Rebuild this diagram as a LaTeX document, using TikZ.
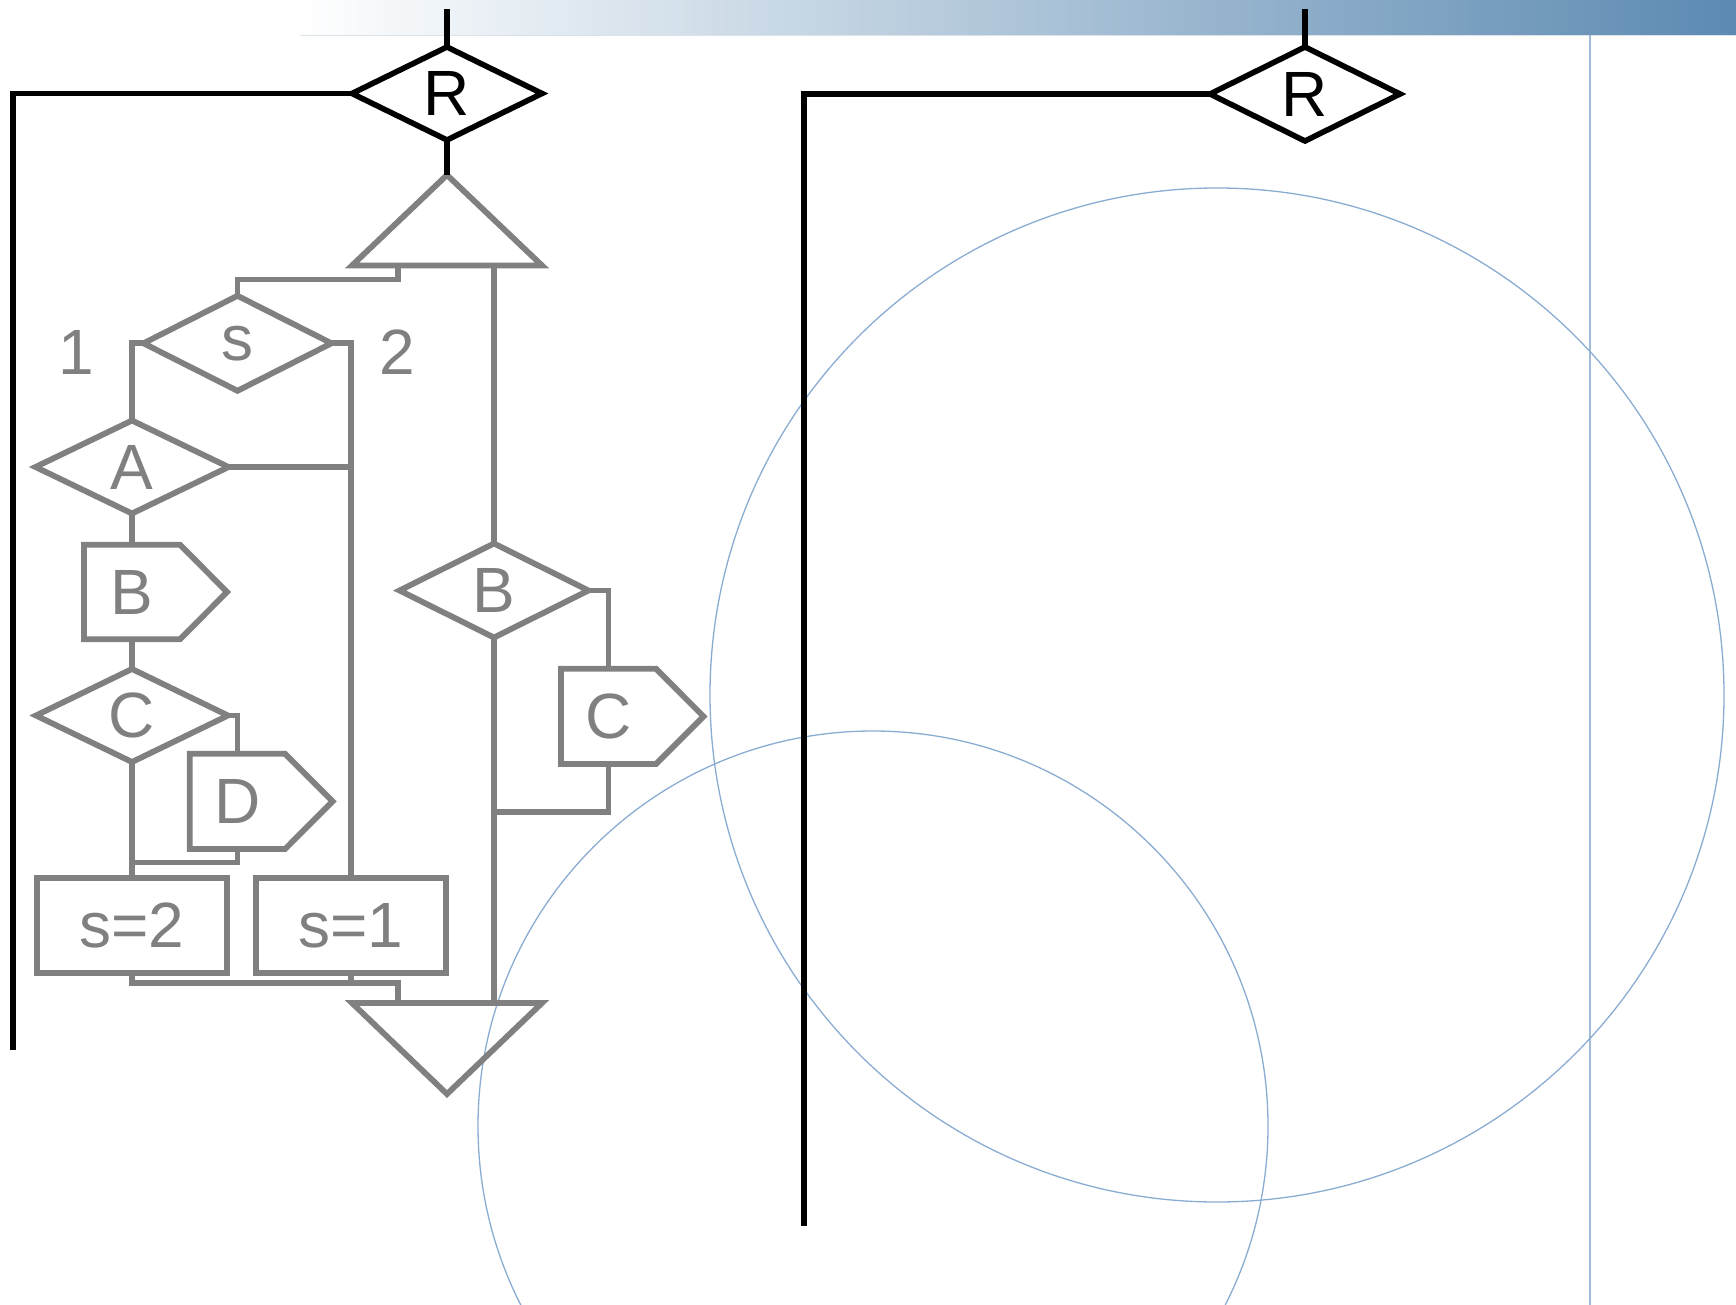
\documentclass[tikz,border=0pt]{standalone}
\usepackage{fontspec}
\setmainfont{Liberation Sans}
\usetikzlibrary{shapes.geometric}
\definecolor{grayline}{RGB}{128,128,128}
\definecolor{barblue}{RGB}{92,138,178}
\definecolor{circblue}{RGB}{138,172,210}
\definecolor{vlineblue}{RGB}{160,188,214}
\definecolor{barline}{RGB}{218,226,234}
\begin{document}
\begin{tikzpicture}[x=1pt,y=-1pt,
  every node/.style={outer sep=0pt, inner sep=0pt, font=\fontsize{64}{64}\selectfont},
  blk/.style={draw=black, line width=5.6pt},
  gry/.style={draw=grayline, line width=5.8pt},
  dmd/.style 2 args={diamond, aspect=2, minimum width=#1, minimum height=#2},
  helper/.style 2 args={rectangle, minimum width=#1, minimum height=#2},
  gtext/.style={text=grayline}
]
\useasboundingbox (0,0) rectangle (1736,1305);

% background decoration
\shade[left color=white, right color=barblue] (300,0) rectangle (1736,35);
\draw[barline, line width=1pt] (300,35.5) -- (1736,35.5);
\draw[vlineblue, line width=1.6pt] (1590,35) -- (1590,1305);
\begin{scope}
  \clip (0,0) rectangle (1736,1305);
  \draw[circblue, line width=1.3pt] (1217,695) circle[radius=507];
  \draw[circblue, line width=1.3pt] (873,1126) circle[radius=395];
\end{scope}

% ---------- left R diagram ----------
\node[dmd={190pt}{93pt}, blk] (R1) at (447,93.5) {R};
\coordinate (R1top) at (447,9);
\coordinate (L1) at (12.7,1050);
\draw[blk] (R1top) -- (R1.north);
\draw[blk] (R1.west) -| (L1);

% top triangle
\node[helper={190pt}{90.5pt}] (T1) at (447,220.25) {};
\draw[gry] (T1.north) -- (T1.south east) -- (T1.south west) -- cycle;
\draw[blk] (R1.south) -- (T1.north);

% bottom triangle
\node[helper={190pt}{91pt}] (T2) at (447,1048.5) {};
\draw[gry] (T2.north west) -- (T2.north east) -- (T2.south) -- cycle;

% s decision
\node[dmd={188pt}{95pt}, gry, gtext] (S) at (237.5,343.3) {s};
\node[gtext] (one) at (76,352.5) {1};
\node[gtext] (two) at (397,352.5) {2};

% left branch
\node[dmd={193pt}{93pt}, gry, gtext] (A) at (132,467) {A};
\node[helper={96pt}{94.6pt}, gtext] (B1) at (132,592) {B};
\draw[gry] (B1.north west) -- (B1.north east) -- ([xshift=47pt]B1.east) -- (B1.south east) -- (B1.south west) -- cycle;
\node[dmd={192pt}{93pt}, gry, gtext] (C) at (132,715.5) {C};
\node[helper={95.4pt}{95.2pt}, gtext] (D) at (237.4,801.4) {D};
\draw[gry] (D.north west) -- (D.north east) -- ([xshift=47.5pt]D.east) -- (D.south east) -- (D.south west) -- cycle;
\node[helper={190pt}{95pt}, gry, gtext] (s2) at (132,925.5) {s=2};
\node[helper={190.5pt}{95pt}, gry, gtext] (s1) at (351,925.5) {s=1};

% right branch
\node[dmd={189pt}{94pt}, gry, gtext] (B2) at (494,590.5) {B};
\node[helper={95pt}{95.2pt}, gtext] (C2) at (608.5,716.4) {C};
\draw[gry] (C2.north west) -- (C2.north east) -- ([xshift=47.5pt]C2.east) -- (C2.south east) -- (C2.south west) -- cycle;

% connectors
\draw[gry] ([xshift=-49pt]T1.south) -- ++(0,14) -| (S.north);
\draw[gry] (T1.south -| B2.north) -- (B2.north);
\draw[gry] (S.west) -| (A.north);
\draw[gry] (S.east) -| (s1.north);
\draw[gry] (A.east) -- (A.east -| s1.north);
\draw[gry] (A.south) -- (B1.north);
\draw[gry] (B1.south) -- (C.north);
\draw[gry] (C.east) -| (D.north);
\coordinate (Dj) at (132,862.5);
\draw[gry] (D.south) |- (Dj);
\draw[gry] (C.south) -- (s2.north);
\coordinate (Bj) at (398,983);
\draw[gry] (s2.south) |- (Bj) -- (Bj |- T2.north);
\draw[gry] (s1.south) -- (s1.south |- Bj);
\draw[gry] (B2.east) -| (C2.north);
\coordinate (Cj) at (494,812);
\draw[gry] (C2.south) |- (Cj);
\draw[gry] (B2.south) -- (B2.south |- T2.north);

% ---------- right R diagram ----------
\node[dmd={190pt}{94pt}, blk] (R2) at (1305,94) {R};
\coordinate (R2top) at (1305,9);
\coordinate (L2) at (804,1226);
\draw[blk] (R2top) -- (R2.north);
\draw[blk] (R2.west) -| (L2);
\end{tikzpicture}
\end{document}
